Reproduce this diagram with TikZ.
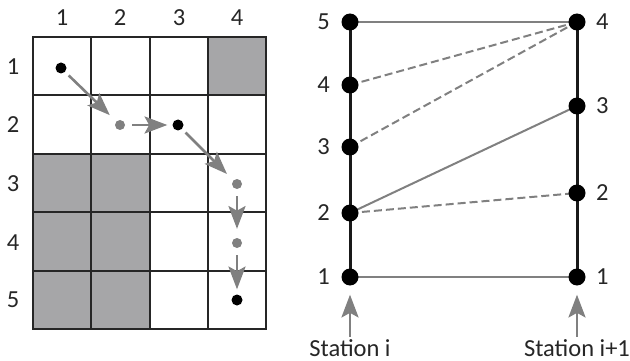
\documentclass[tikz,border=0pt]{standalone}
\usepackage{fontspec}
\setmainfont{Carlito}
\usetikzlibrary{arrows.meta}
\definecolor{cellgray}{RGB}{166,166,168}
\definecolor{arrgray}{RGB}{128,128,128}
\begin{document}
\begin{tikzpicture}[x=1pt,y=-1pt,
  lab/.style={font=\fontsize{24.5}{28}\selectfont, text=black!85, inner sep=0pt},
  bdot/.style={circle, fill=black, inner sep=0pt, minimum size=11pt},
  gdot/.style={circle, fill=arrgray, inner sep=0pt, minimum size=10pt},
  sdot/.style={circle, fill=black, inner sep=0pt, minimum size=17pt},
  garr/.style={draw=arrgray, line width=2.6pt, -{Stealth[scale=1.55, inset=3pt]}},
  gline/.style={draw=arrgray, line width=2pt},
  gdash/.style={draw=arrgray, line width=2pt, dash pattern=on 8pt off 4pt},
  gridline/.style={line width=2pt, draw=black!85},
  sline/.style={draw=black!90, line width=3pt}]
\useasboundingbox (0,0) rectangle (630,361);
% shaded cells
\fill[cellgray] (208,37) rectangle (266,95);
\fill[cellgray] (33,153) rectangle (150,329);
% grid
\foreach \x in {33,91.25,149.5,207.75,266} \draw[gridline] (\x,37) -- (\x,329);
\foreach \y in {37,95.4,153.8,212.2,270.6,329} \draw[gridline] (33,\y) -- (266,\y);
\draw[gridline] (33,37) rectangle (266,329);
% labels
\foreach \i/\x in {1/62,2/120,3/179,4/237} \node[lab] (c\i) at (\x,18) {\i};
\foreach \i/\y in {1/67,2/125,3/184,4/243,5/300} \node[lab] (r\i) at (13,\y) {\i};
% dots
\node[bdot] (d1) at (61,68) {};
\node[gdot] (d2) at (120,125) {};
\node[bdot] (d3) at (178,125) {};
\node[gdot] (d4) at (237,184) {};
\node[gdot] (d5) at (237,243) {};
\node[bdot] (d6) at (237,300) {};
\draw[garr, shorten <=5pt, shorten >=9pt] (d1) -- (d2);
\draw[garr, shorten <=7pt, shorten >=5pt] (d2) -- (d3);
\draw[garr, shorten <=5pt, shorten >=9pt] (d3) -- (d4);
\draw[garr, shorten <=7pt, shorten >=9pt] (d4) -- (d5);
\draw[garr, shorten <=7pt, shorten >=5pt] (d5) -- (d6);
% right diagram
\coordinate (L5) at (350,22);
\coordinate (L4) at (350,85);
\coordinate (L3) at (350,147);
\coordinate (L2) at (350,213);
\coordinate (L1) at (350,277);
\coordinate (R4) at (577,22);
\coordinate (R3) at (577,106);
\coordinate (R2) at (577,193);
\coordinate (R1) at (577,277);
\draw[sline] (L5) -- (L1);
\draw[sline] (R4) -- (R1);
\draw[gline] (L5) -- (R4);
\draw[gline] (L1) -- (R1);
\draw[gline] (L2) -- (R3);
\draw[gdash] (L4) -- (R4);
\draw[gdash] (L3) -- (R4);
\draw[gdash] (L2) -- (R2);
\foreach \n in {L5,L4,L3,L2,L1,R4,R3,R2,R1} \node[sdot] (n\n) at (\n) {};
\foreach \n/\t in {L5/5,L4/4,L3/3,L2/2,L1/1} \node[lab, anchor=east] (t\n) at ([xshift=-20pt]\n) {\t};
\foreach \n/\t in {R4/4,R3/3,R2/2,R1/1} \node[lab, anchor=west] (t\n) at ([xshift=19pt]\n) {\t};
\node[lab, anchor=base] (si) at (350,356) {Station i};
\node[lab, anchor=base] (sj) at (577,356) {Station i+1};
\path (si.north) ++(0,-2) coordinate (a1) (nL1.south) ++(0,9) coordinate (b1);
\draw[garr] (a1) -- (b1);
\path (sj.north) ++(0,-2) coordinate (a2) (nR1.south) ++(0,9) coordinate (b2);
\draw[garr] (a2) -- (b2);
\end{tikzpicture}
\end{document}
